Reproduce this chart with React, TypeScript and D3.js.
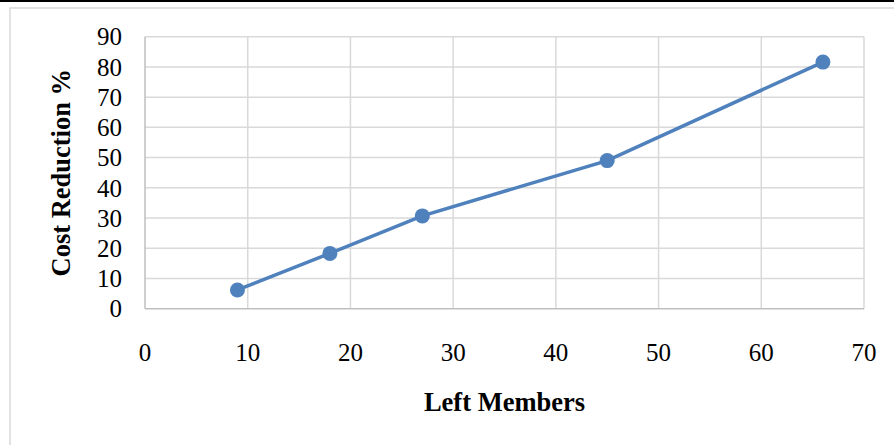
import React from "react";
import * as d3 from "d3";

const xValues = [9, 18, 27, 45, 66];
const yValues = [6.2, 18.3, 30.7, 49, 81.6];
const xTicks = [0, 10, 20, 30, 40, 50, 60, 70];
const yTicks = [0, 10, 20, 30, 40, 50, 60, 70, 80, 90];
const xTitle = "Left Members";
const yTitle = "Cost Reduction %";

export default function App() {
  const W = 894, H = 445;
  const left = 145, right = 864, top = 36.7, bottom = 308.7;
  const x = d3.scaleLinear().domain([0, 70]).range([left, right]);
  const y = d3.scaleLinear().domain([0, 90]).range([bottom, top]);
  const pts = xValues.map((v, i) => [v, yValues[i]] as [number, number]);
  const line = d3.line<[number, number]>().x(d => x(d[0])).y(d => y(d[1]));
  const font = "'Liberation Serif', 'Times New Roman', serif";
  return (
    <svg width={W} height={H} style={{ position: "absolute", left: 0, top: 0 }}>
      <rect x={0} y={0} width={W} height={H} fill="#fff" />
      <line x1={0} x2={W} y1={1} y2={1} stroke="#000" strokeWidth={2} />
      <rect x={10} y={8} width={W + 10} height={H + 10} fill="none" stroke="#d9d9d9" strokeWidth={1.5} />
      {yTicks.filter(t => t > 0).map(t => (
        <line key={"gy" + t} x1={left} x2={right} y1={y(t)} y2={y(t)} stroke="#d9d9d9" strokeWidth={1.5} />
      ))}
      {xTicks.filter(t => t > 0).map(t => (
        <line key={"gx" + t} x1={x(t)} x2={x(t)} y1={top} y2={bottom} stroke="#d9d9d9" strokeWidth={1.5} />
      ))}
      <line x1={left} x2={right} y1={bottom} y2={bottom} stroke="#bfbfbf" strokeWidth={1.5} />
      <line x1={left} x2={left} y1={top} y2={bottom} stroke="#bfbfbf" strokeWidth={1.5} />
      {yTicks.map(t => (
        <text key={"ty" + t} x={122} y={y(t)} dy="0.35em" textAnchor="end" fontFamily={font} fontSize={25} fill="#000">{t}</text>
      ))}
      {xTicks.map(t => (
        <text key={"tx" + t} x={x(t)} y={352} dy="0.35em" textAnchor="middle" fontFamily={font} fontSize={25} fill="#000">{t}</text>
      ))}
      <text x={(left + right) / 2} y={402} dy="0.35em" textAnchor="middle" fontFamily={font} fontSize={26.5} fontWeight="bold" fill="#000">{xTitle}</text>
      <text transform={`translate(61,${(top + bottom) / 2}) rotate(-90)`} dy="0.35em" textAnchor="middle" fontFamily={font} fontSize={26.5} fontWeight="bold" fill="#000">{yTitle}</text>
      <path d={line(pts) || ""} fill="none" stroke="#4f81bd" strokeWidth={3.5} />
      {pts.map((p, i) => (
        <circle key={i} cx={x(p[0])} cy={y(p[1])} r={7.5} fill="#4f81bd" />
      ))}
    </svg>
  );
}
